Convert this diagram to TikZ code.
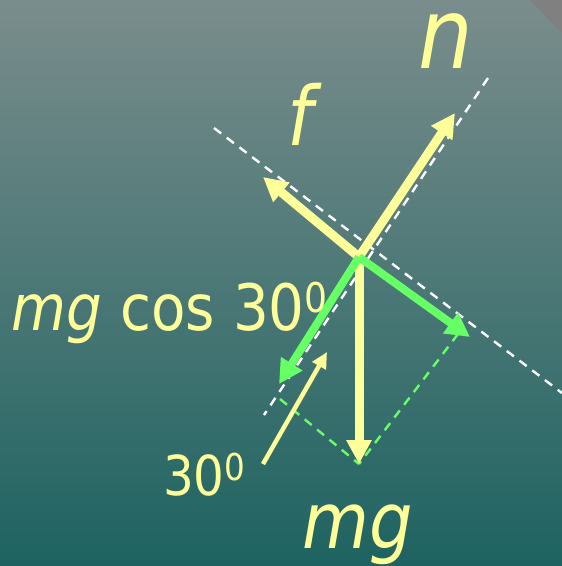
\documentclass[tikz,border=0pt]{standalone}
\usepackage{fontspec}
\setmainfont{DejaVu Sans}[FakeStretch=0.88]
\usetikzlibrary{arrows.meta}
\definecolor{bgtop}{RGB}{122,141,140}
\definecolor{bgbot}{RGB}{30,99,97}
\definecolor{yel}{RGB}{255,255,153}
\definecolor{grn}{RGB}{102,255,102}
\definecolor{corner}{RGB}{128,128,128}
\tikzset{
  yarrow/.style={draw=yel, line width=9pt, -{Triangle[length=24pt,width=24pt]}},
  garrow/.style={draw=grn, line width=8pt, -{Triangle[length=24pt,width=24pt]}},
  thinarrow/.style={draw=yel, line width=4.5pt, -{Triangle[length=16pt,width=15pt]}},
  wdash/.style={draw=white, line width=2.4pt, dash pattern=on 9pt off 7pt},
  gdash/.style={draw=grn, line width=2.4pt, dash pattern=on 9pt off 7pt},
  lbl/.style={text=yel, inner sep=0pt, outer sep=0pt}
}
\begin{document}
\begin{tikzpicture}[x=1pt,y=-1pt]
\useasboundingbox (0,0) rectangle (562,566);
\shade[top color=bgtop, bottom color=bgbot] (0,0) rectangle (562,566);
\fill[corner] (530,0) -- (562,0) -- (562,33) -- cycle;
% points
\coordinate (O) at (359,257);
\coordinate (ntip) at (455,113);
\coordinate (ftip) at (263,177);
\coordinate (stip) at (470,337);
\coordinate (ctip) at (279,384);
\coordinate (mgtip) at (359,464);
\coordinate (wa1) at (214,128);
\coordinate (wa2) at (562,393);
\coordinate (wb1) at (488,78);
\coordinate (wb2) at (264,415);
\coordinate (gd1) at (280,399);
\coordinate (gd2) at (458,334);
\coordinate (thtail) at (263,464);
\coordinate (thtip) at (327,352);
% dashed lines
\draw[wdash] (wa1) -- (wa2);
\draw[wdash] (wb1) -- (wb2);
\draw[gdash] (gd1) -- (mgtip);
\draw[gdash] (gd2) -- (mgtip);
% arrows
\draw[yarrow] (O) -- (ntip);
\draw[yarrow] (O) -- (ftip);
\draw[yarrow] (O) -- (mgtip);
\draw[garrow] (O) -- (stip);
\draw[garrow] (O) -- (ctip);
\draw[thinarrow] (thtail) -- (thtip);
% labels
\node[lbl, anchor=base] (nlab) at (446,68) {\fontsize{98}{98}\selectfont\itshape n};
\node[lbl, anchor=base] (flab) at (300,145) {\fontsize{82}{82}\selectfont\itshape f};
\node[lbl, anchor=base] (mglab) at (358,548) {\fontsize{78}{78}\selectfont\itshape mg};
\node[lbl, anchor=base west] (coslab) at (12,330) {\fontsize{64}{64}\selectfont\textit{mg} cos 30\raisebox{18pt}{\fontsize{41}{41}\selectfont 0}};
\node[lbl, anchor=base west] (anglab) at (163,495) {\fontsize{55}{55}\selectfont 30\raisebox{15pt}{\fontsize{37}{37}\selectfont 0}};
\end{tikzpicture}
\end{document}
